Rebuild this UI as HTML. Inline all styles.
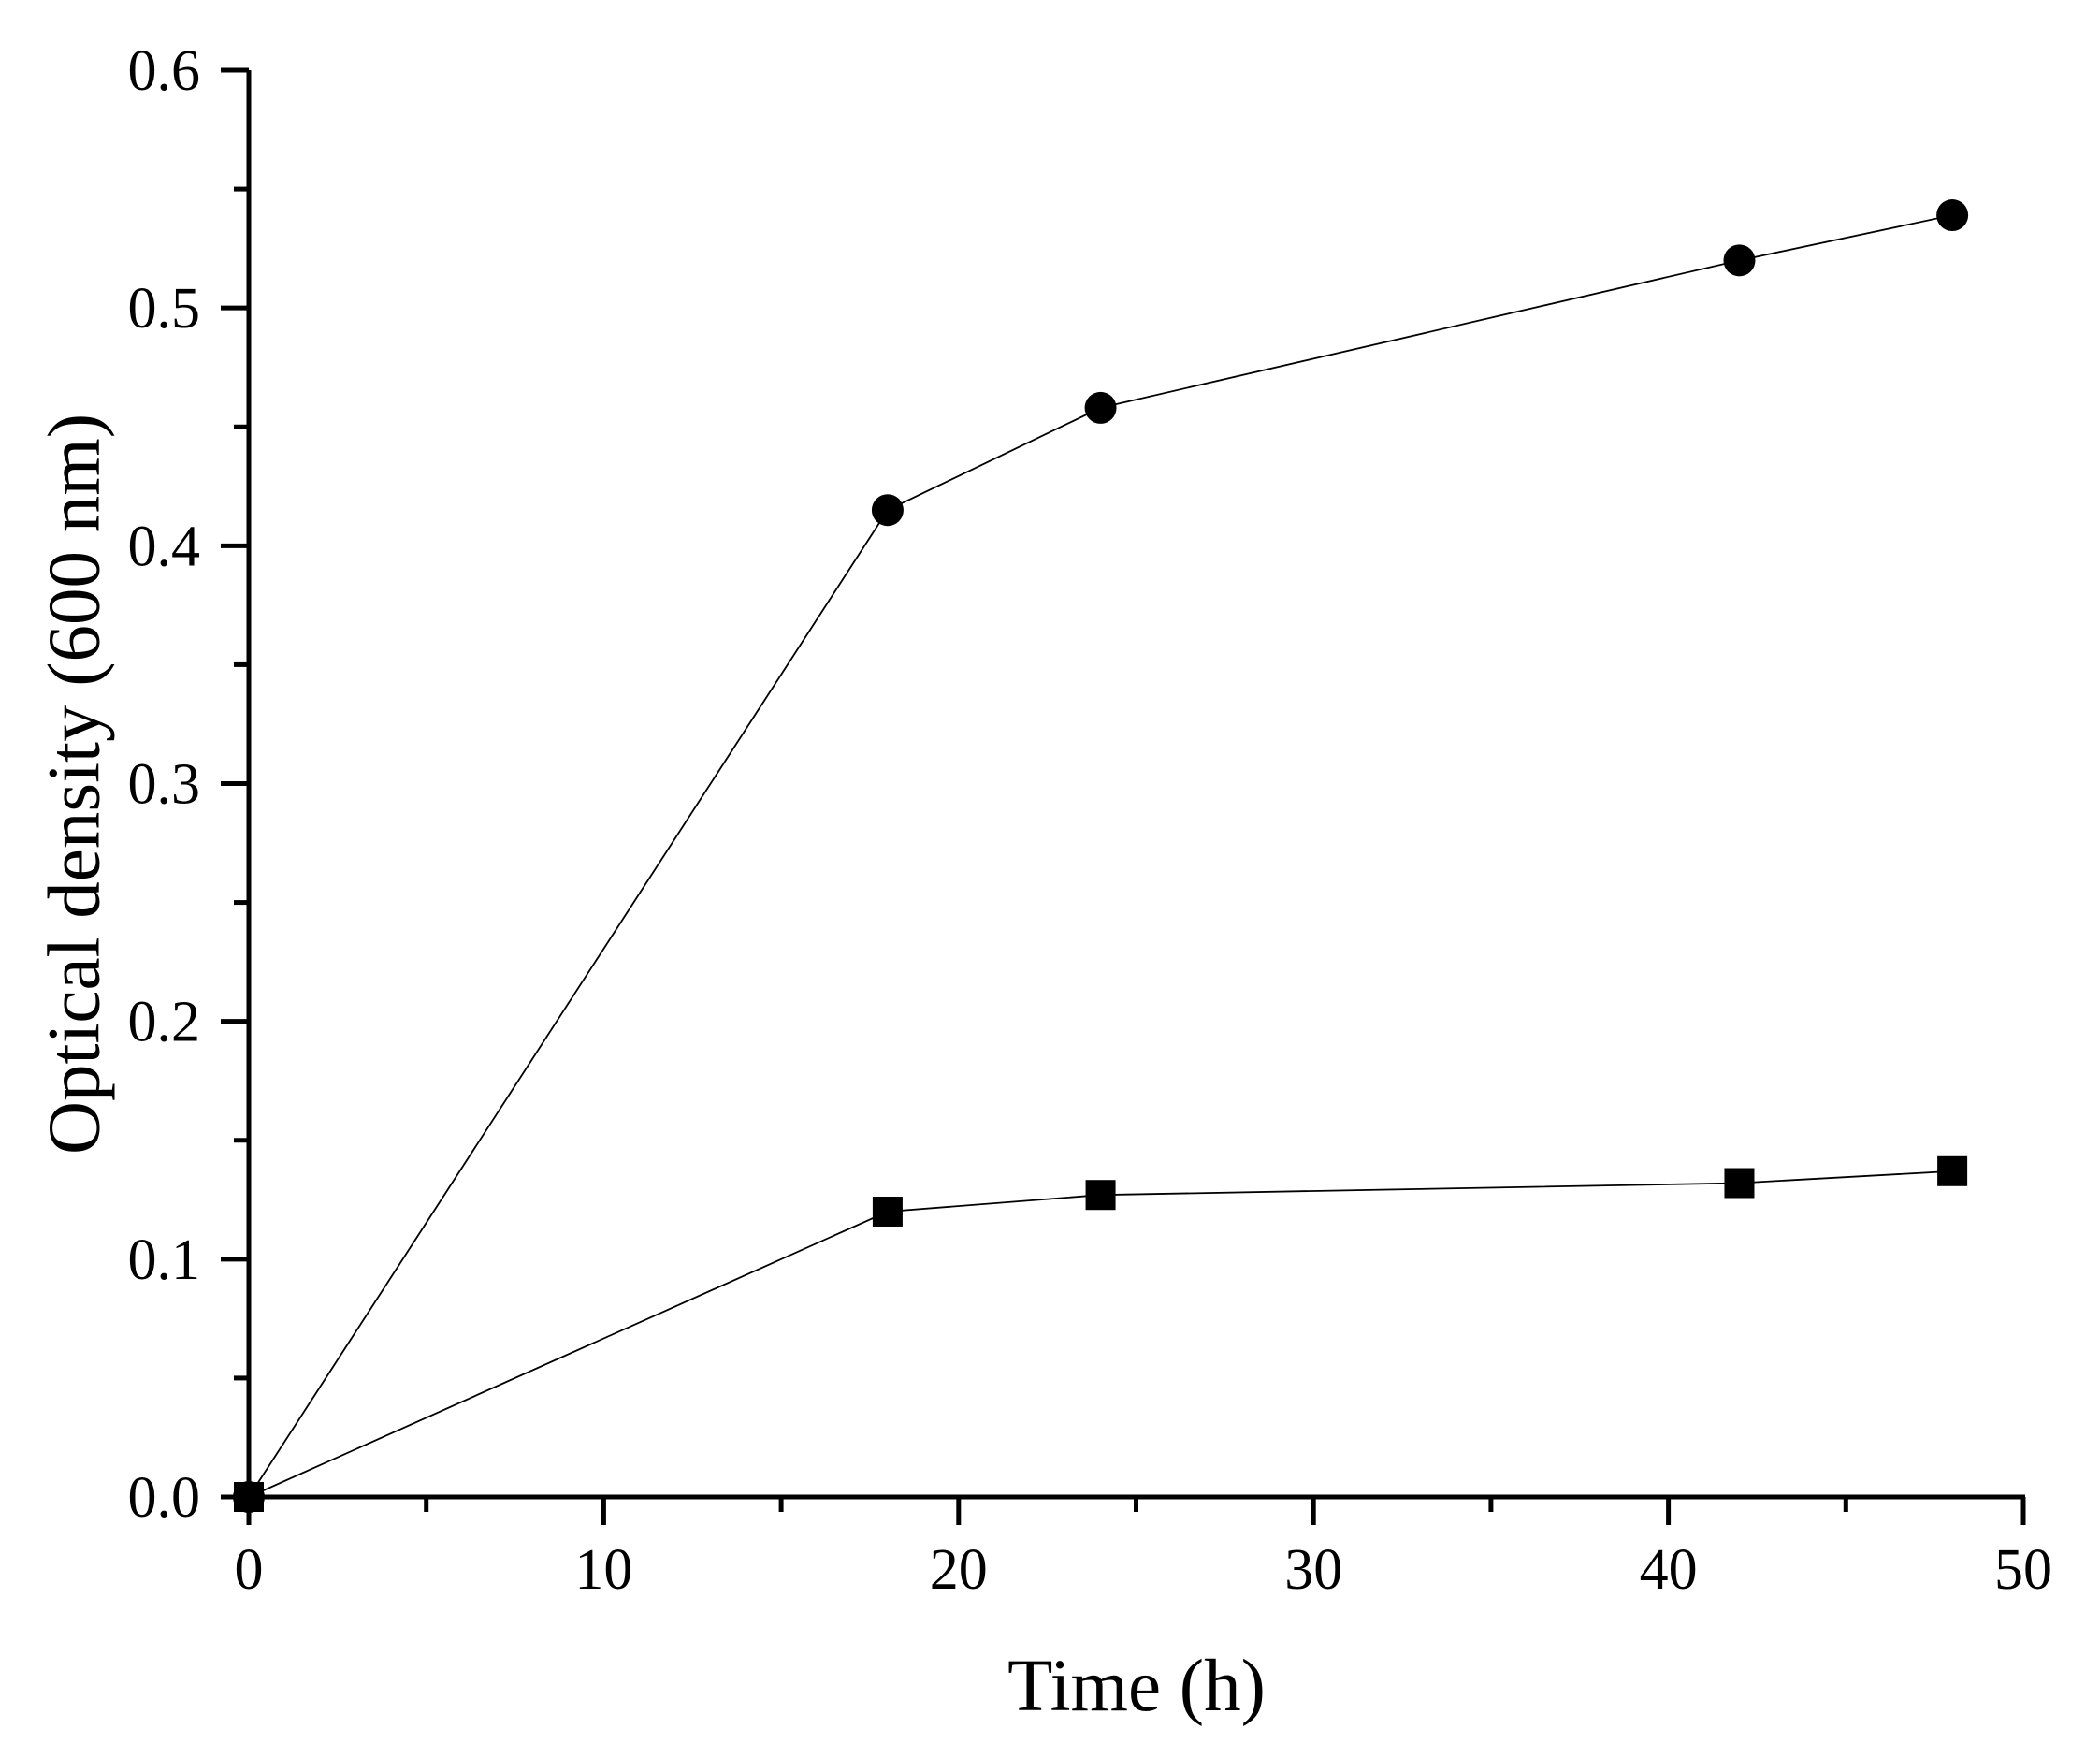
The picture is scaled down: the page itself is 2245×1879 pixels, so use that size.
<!DOCTYPE html>
<html><head><meta charset="utf-8"><style>
html,body{margin:0;padding:0;background:#fff}
svg{display:block}
text{font-family:"Liberation Serif",serif;fill:#000}
</style></head><body>
<svg id="chart" width="2245" height="1879" viewBox="0 0 2245 1879" xmlns="http://www.w3.org/2000/svg">
<g id="axes"></g><g id="series"></g>
<text x="1215" y="1828" font-size="79" text-anchor="middle">Time (h)</text>
<text transform="translate(80,838) rotate(-90)" font-size="79" text-anchor="middle" dominant-baseline="central">Optical density (600 nm)</text>
</svg>
<script>
const times = [0, 18, 24, 42, 48];
const circleSeries = [0, 0.415, 0.458, 0.52, 0.539];
const squareSeries = [0, 0.12, 0.127, 0.132, 0.137];
const xTicks = [0, 10, 20, 30, 40, 50];
const yTicks = ["0.0","0.1","0.2","0.3","0.4","0.5","0.6"];
const X0=266, X1=2163, Y0=1600, Y1=75;
const xs = v => X0 + (v-0)/(50-0)*(X1-X0);
const ys = v => Y0 - (v-0)/(0.6-0)*(Y0-Y1);
const NS="http://www.w3.org/2000/svg";
const axes=document.getElementById('axes'), ser=document.getElementById('series');
function mk(tag, attrs, parent){const e=document.createElementNS(NS,tag);for(const k in attrs)e.setAttribute(k,attrs[k]);parent.appendChild(e);return e;}
let e;
e=mk('line',{x1:X0,y1:Y1,x2:X0,y2:Y0+2,stroke:'#000','stroke-width':5},axes);


e=mk('line',{x1:X0-2,y1:Y0,x2:X1+2,y2:Y0,stroke:'#000','stroke-width':5},axes);


for(let i=0;i<=10;i++){
  const v=i*5, x=xs(v), major=i%2===0;
  e=mk('line',{x1:x,y1:Y0,x2:x,y2:Y0+(major?30:16),stroke:'#000','stroke-width':5},axes);
  
  
}
xTicks.forEach(v=>{
  e=mk('text',{x:xs(v),y:1698,'font-size':62,'text-anchor':'middle'},axes);e.textContent=String(v);
  
  
});
for(let i=0;i<=12;i++){
  const v=i*0.05, y=ys(v), major=i%2===0;
  e=mk('line',{x1:X0,y1:y,x2:X0-(major?30:16),y2:y,stroke:'#000','stroke-width':5},axes);
  
  
}
yTicks.forEach(t=>{
  e=mk('text',{x:214,y:ys(parseFloat(t))+21,'font-size':62,'text-anchor':'end'},axes);e.textContent=t;
  
  
});
function line(vals,name){
  e=mk('polyline',{points:times.map((t,i)=>xs(t)+','+ys(vals[i])).join(' '),fill:'none',stroke:'#000','stroke-width':1.8},ser);
  
  
}
line(circleSeries,'circle-series-line');
line(squareSeries,'square-series-line');
times.forEach((t,i)=>{
  e=mk('circle',{cx:xs(t),cy:ys(circleSeries[i]),r:17,fill:'#000'},ser);
  
  
  e=mk('rect',{x:xs(t)-16,y:ys(squareSeries[i])-16,width:32,height:32,fill:'#000'},ser);
  
  
});
</script>
</body></html>
